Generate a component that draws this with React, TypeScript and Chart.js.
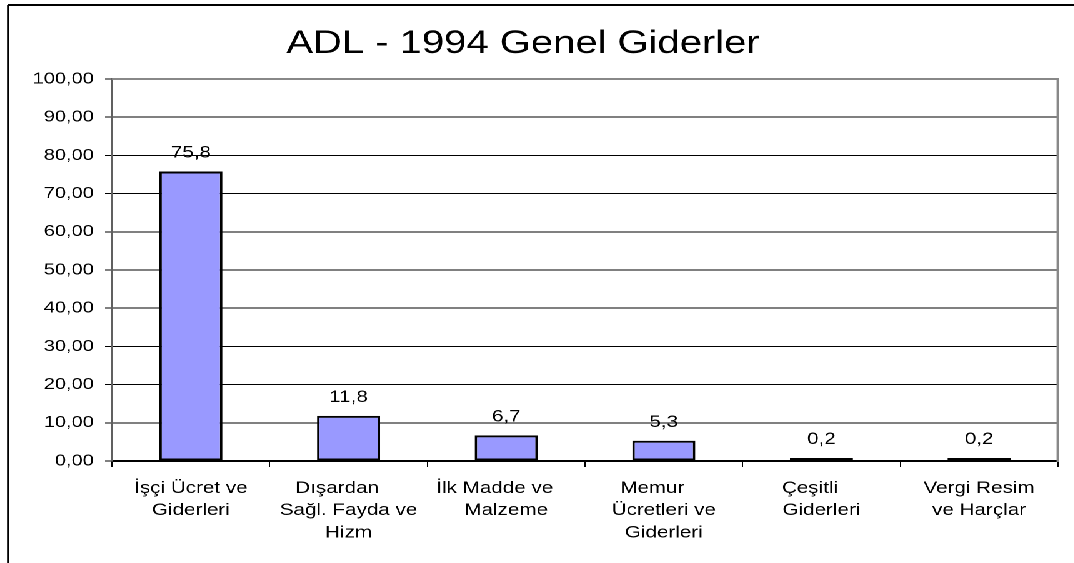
import { useEffect, useRef } from "react";
import { Chart, registerables } from "chart.js";

Chart.register(...registerables);

// ---- data ----
const categories: string[][] = [
  ["İşçi Ücret ve", "Giderleri"],
  ["Dışardan    ", "Sağl. Fayda ve", "Hizm"],
  ["İlk Madde ve    ", "Malzeme"],
  ["Memur    ", "Ücretleri ve", "Giderleri"],
  ["Çeşitli    ", "Giderleri"],
  ["Vergi Resim", "ve Harçlar"],
];
const values: number[] = [75.8, 11.8, 6.7, 5.3, 0.2, 0.2];
const yMin = 0;
const yMax = 100;
const yStep = 10;
const titleText = "ADL - 1994 Genel Giderler";

// the reference picture is stretched horizontally
const SX = 1.25;
const W = 859;
const H = 563;
const FONT = "'Liberation Sans', Arial, sans-serif";

const fmt = (v: number, d: number) => v.toFixed(d).replace(".", ",");

const decor = {
  id: "decor",
  beforeDraw(chart: any) {
    const ctx = chart.ctx as CanvasRenderingContext2D;
    ctx.save();
    ctx.strokeStyle = "#000";
    ctx.lineWidth = 2;
    ctx.beginPath();
    ctx.moveTo(8 / SX, 5);
    ctx.lineTo(W + 10, 5);
    ctx.stroke();
    ctx.lineWidth = 2 / SX;
    ctx.beginPath();
    ctx.moveTo(8 / SX, 5);
    ctx.lineTo(8 / SX, H + 10);
    ctx.stroke();
    ctx.fillStyle = "#000";
    ctx.font = `32px ${FONT}`;
    ctx.textAlign = "center";
    ctx.textBaseline = "alphabetic";
    ctx.fillText(titleText, 523 / SX, 53);
    ctx.restore();
  },
  afterDatasetsDraw(chart: any) {
    const ctx = chart.ctx as CanvasRenderingContext2D;
    const meta = chart.getDatasetMeta(0);
    const zeroY = chart.scales.y.getPixelForValue(0);
    ctx.save();
    ctx.fillStyle = "#000";
    ctx.font = `16.5px ${FONT}`;
    ctx.textAlign = "center";
    ctx.textBaseline = "alphabetic";
    meta.data.forEach((el: any, i: number) => {
      const top = Math.min(el.y, zeroY - 1);
      ctx.fillText(fmt(values[i], 1), el.x, top - 14);
    });
    ctx.restore();
  },
  afterDraw(chart: any) {
    const ctx = chart.ctx as CanvasRenderingContext2D;
    const a = chart.chartArea;
    ctx.save();
    ctx.strokeStyle = "#888";
    ctx.lineWidth = 2;
    ctx.beginPath();
    ctx.moveTo(a.left, a.top);
    ctx.lineTo(a.right + 1, a.top);
    ctx.stroke();
    ctx.lineWidth = 2.2;
    ctx.beginPath();
    ctx.moveTo(a.right, a.top - 1);
    ctx.lineTo(a.right, a.bottom + 1);
    ctx.stroke();
    ctx.restore();
  },
};

export default function App() {
  const ref = useRef<HTMLCanvasElement | null>(null);
  useEffect(() => {
    if (!ref.current) return;
    Chart.defaults.font.family = FONT;
    Chart.defaults.font.size = 16;
    Chart.defaults.color = "#000";
    const chart = new Chart(ref.current, {
      type: "bar",
      data: {
        labels: categories,
        datasets: [
          {
            data: values,
            backgroundColor: "#9999FF",
            borderColor: "#000",
            borderWidth: 2,
            borderSkipped: false,
            categoryPercentage: 1,
            barPercentage: 0.4,
            minBarLength: 3,
          },
        ],
      },
      options: {
        animation: false,
        responsive: true,
        maintainAspectRatio: false,
        devicePixelRatio: 2,
        layout: { padding: { left: 0, top: 79, right: W - 1058 / SX, bottom: 0 } },
        plugins: {
          legend: { display: false },
          tooltip: { enabled: false },
          title: { display: false },
        },
        scales: {
          x: {
            afterFit: (s: any) => {
              s.height = H - 461;
            },
            grid: {
              offset: true,
              drawOnChartArea: false,
              drawTicks: true,
              tickLength: 6,
              color: "#000",
              lineWidth: 1,
            },
            border: { color: "#000", width: 2 },
            ticks: {
              padding: 10,
              maxRotation: 0,
              autoSkip: false,
              font: { size: 16.5, family: FONT, lineHeight: 1.36 },
              color: "#000",
            },
          },
          y: {
            min: yMin,
            max: yMax,
            afterFit: (s: any) => {
              s.width = 112 / SX;
            },
            grid: {
              color: "#000",
              lineWidth: 1,
              drawTicks: true,
              tickLength: 7 / SX,
            },
            border: { color: "#606060", width: 2 },
            ticks: {
              stepSize: yStep,
              padding: 9,
              font: { size: 16, family: FONT },
              color: "#000",
              callback: (v: any) => fmt(Number(v), 2),
            },
          },
        },
      },
      plugins: [decor],
    });
    return () => chart.destroy();
  }, []);
  return (
    <div
      style={{
        position: "absolute",
        left: 0,
        top: 0,
        width: W,
        height: H,
        transform: `scaleX(${SX})`,
        transformOrigin: "0 0",
        background: "#fff",
      }}
    >
      <canvas ref={ref} />
    </div>
  );
}
